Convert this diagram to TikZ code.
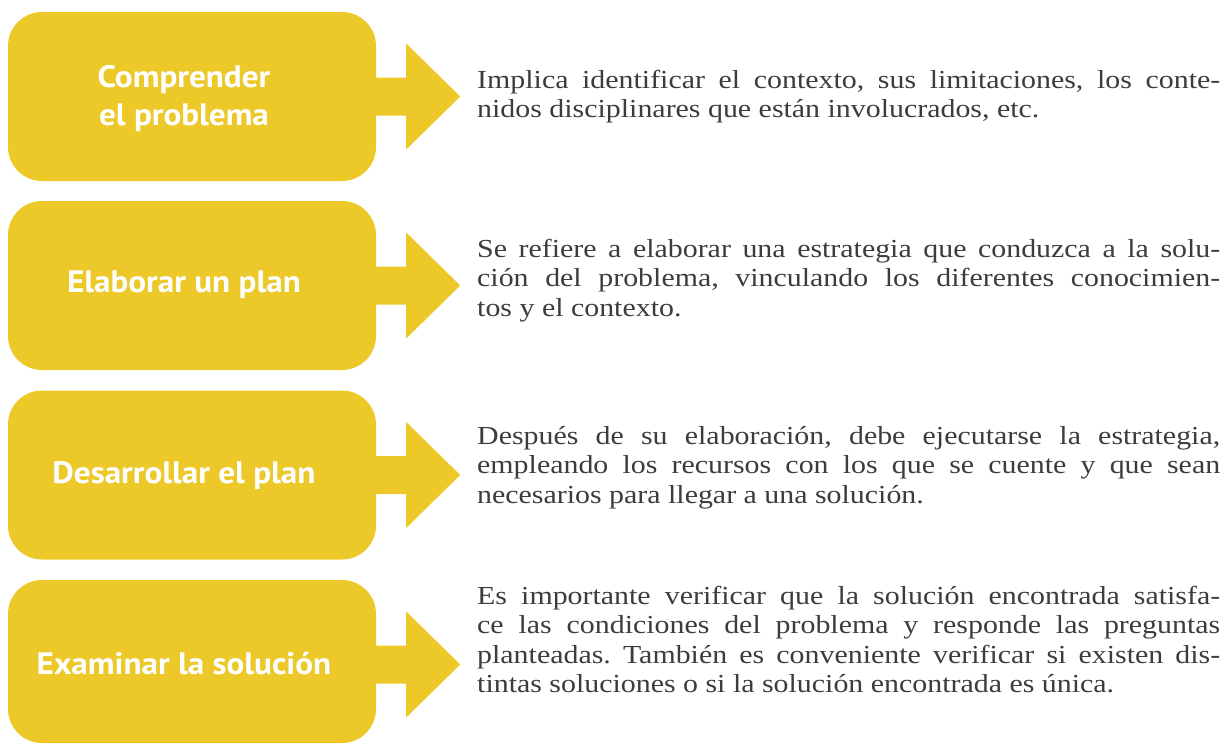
\documentclass[tikz,border=0pt]{standalone}
\usepackage{fontspec}
\setmainfont{Liberation Serif}[FakeStretch=1.15]
\newfontfamily\labfont{PT Sans}[FakeStretch=1.07]
\usetikzlibrary{calc}
\definecolor{boxyellow}{HTML}{ECC828}
\definecolor{txtgray}{HTML}{3C3C3B}
\tikzset{
  stepbox/.style={fill=boxyellow, rounded corners=34pt, minimum width=368pt, minimum height=169pt, inner sep=0pt, draw=none},
  steplabel/.style={text=white, font=\labfont\bfseries\fontsize{31}{38}\selectfont, align=center, anchor=base, inner sep=0pt},
  desc/.style={text=txtgray, font=\fontsize{26}{29.5}\selectfont\frenchspacing, text width=743pt, align=justify, anchor=base west, inner sep=0pt},
}
\newcommand{\steparrow}[1]{%
  \fill[boxyellow] ($(#1.east)+(-6,-19)$) -- ($(#1.east)+(30,-19)$) -- ($(#1.east)+(30,-53)$)
    -- ($(#1.east)+(84,0)$) -- ($(#1.east)+(30,53)$) -- ($(#1.east)+(30,19)$) -- ($(#1.east)+(-6,19)$) -- cycle;}
\begin{document}
\begin{tikzpicture}[x=1pt,y=-1pt]
\useasboundingbox (0,0) rectangle (1225,744);
\clip (0,0) rectangle (1225,744);
% boxes
\node[stepbox] (b1) at (192,96.5) {};
\node[stepbox] (b2) at (192,285.5) {};
\node[stepbox] (b3) at (192,475) {};
\node[stepbox, minimum height=163pt] (b4) at (192,661.5) {};
% arrows
\steparrow{b1}
\steparrow{b2}
\steparrow{b3}
\fill[boxyellow] ($(b4.east)+(-6,-16)$) -- ($(b4.east)+(30,-16)$) -- ($(b4.east)+(30,-50)$)
    -- ($(b4.east)+(84,3)$) -- ($(b4.east)+(30,56)$) -- ($(b4.east)+(30,22)$) -- ($(b4.east)+(-6,22)$) -- cycle;
% labels
\node[steplabel] (l1) at (184,125) {Comprender\\el problema};
\node[steplabel] (l2) at (184,292) {Elaborar un plan};
\node[steplabel] (l3) at (184,483) {Desarrollar el plan};
\node[steplabel] (l4) at (184,674) {Examinar la solución};
% descriptions
\node[desc] (t1) at (477,88) {Implica identificar el contexto, sus limitaciones, los conte-\linebreak nidos disciplinares que están involucrados, etc.};
\node[desc] (t2) at (477,257) {Se refiere a elaborar una estrategia que conduzca a la solu-\linebreak ción del problema, vinculando los diferentes conocimien-\linebreak tos y el contexto.};
\node[desc] (t3) at (477,444) {Después de su elaboración, debe ejecutarse la estrategia,\linebreak empleando los recursos con los que se cuente y que sean\linebreak necesarios para llegar a una solución.};
\node[desc] (t4) at (477,604) {Es importante verificar que la solución encontrada satisfa-\linebreak ce las condiciones del problema y responde las preguntas\linebreak planteadas. También es conveniente verificar si existen dis-\linebreak tintas soluciones o si la solución encontrada es única.};
\end{tikzpicture}
\end{document}
